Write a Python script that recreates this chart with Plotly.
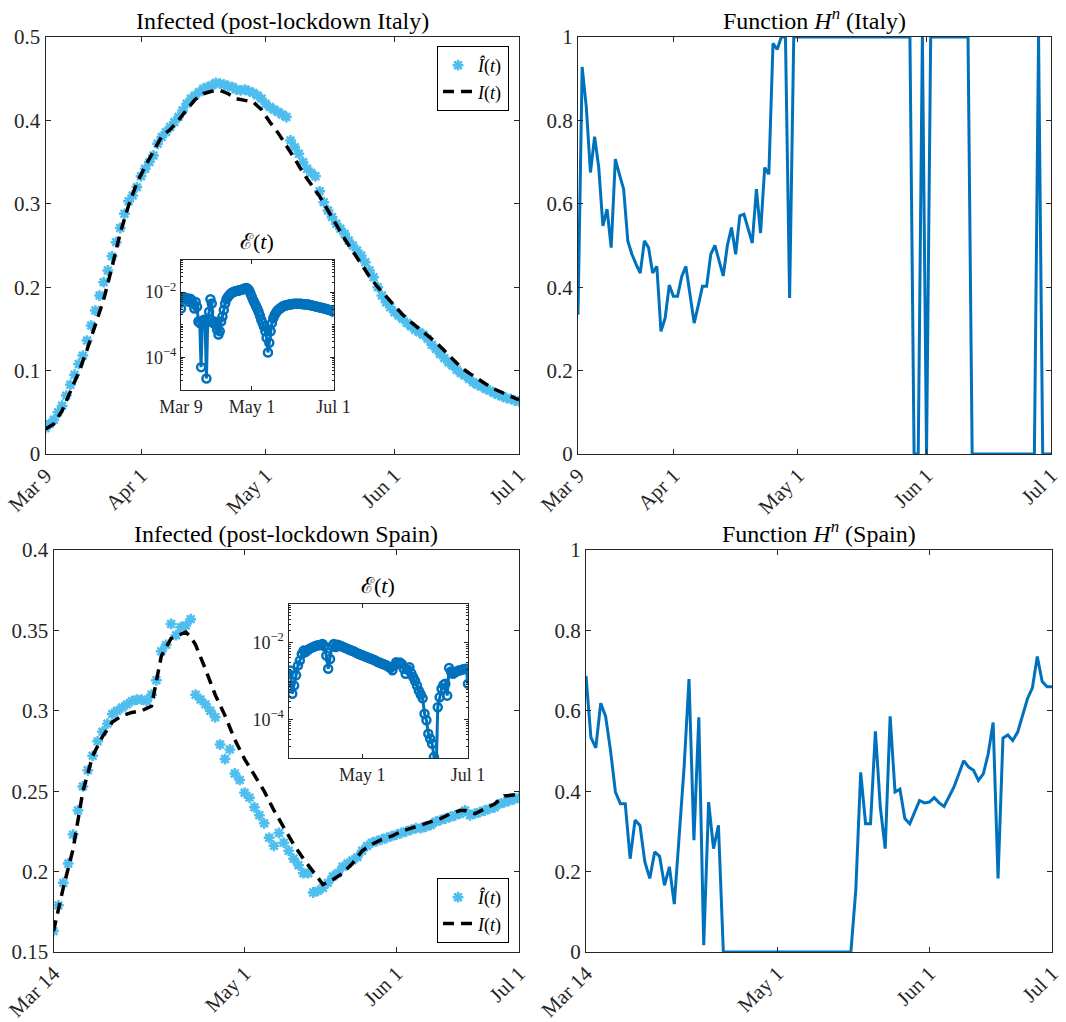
import plotly.graph_objects as go

# ---------------- data ----------------
# Italy (day index from Mar 9)
italy_tick_pos = [0, 23, 53, 84, 114]
italy_tick_txt = ["Mar 9", "Apr 1", "May 1", "Jun 1", "Jul 1"]
italy_inset_tick_pos = [0, 53, 114]
italy_inset_tick_txt = ["Mar 9", "May 1", "Jul 1"]

italy_I_hat = [0.031, 0.036, 0.041, 0.050, 0.058, 0.070, 0.083, 0.095, 0.108, 0.118,
               0.136, 0.154, 0.172, 0.190, 0.206, 0.220, 0.237, 0.254, 0.271, 0.288,
               0.303, 0.310, 0.320, 0.333, 0.342, 0.350, 0.358, 0.372, 0.380, 0.386,
               0.392, 0.398, 0.404, 0.412, 0.420, 0.426, 0.430, 0.434, 0.438, 0.440,
               0.442, 0.445, 0.444, 0.443, 0.441, 0.440, 0.437, 0.436, 0.437, 0.435,
               0.433, 0.430, 0.426, 0.420, 0.416, 0.413, 0.410, 0.407, 0.404, 0.376,
               0.368, 0.360, 0.350, 0.342, 0.337, 0.333, 0.315, 0.302, 0.292, 0.284,
               0.276, 0.270, 0.264, 0.256, 0.250, 0.244, 0.238, 0.230, 0.220, 0.212,
               0.200, 0.190, 0.182, 0.176, 0.170, 0.166, 0.162, 0.157, 0.153, 0.149,
               0.146, 0.143, 0.138, 0.131, 0.126, 0.120, 0.115, 0.110, 0.106, 0.101,
               0.097, 0.094, 0.090, 0.086, 0.083, 0.081, 0.078, 0.076, 0.073, 0.071,
               0.069, 0.067, 0.066, 0.064, 0.063]

italy_model_days = [0, 2, 4, 6, 8, 10, 12, 14, 16, 18, 20, 22, 24, 26, 28, 30, 32, 34, 36, 38,
                    40, 42, 44, 46, 48, 50, 52, 54, 56, 58, 60, 62, 64, 66, 68, 70, 72, 74, 76,
                    78, 80, 82, 84, 86, 88, 90, 92, 94, 96, 98, 100, 102, 104, 106, 108, 110,
                    112, 114]
italy_I_model = [0.030, 0.036, 0.052, 0.075, 0.098, 0.125, 0.155, 0.185, 0.224, 0.265,
                 0.298, 0.325, 0.345, 0.363, 0.381, 0.389, 0.400, 0.413, 0.425, 0.432,
                 0.435, 0.436, 0.432, 0.426, 0.424, 0.422, 0.413, 0.398, 0.385, 0.370,
                 0.354, 0.337, 0.323, 0.309, 0.292, 0.274, 0.258, 0.243, 0.228, 0.213,
                 0.200, 0.189, 0.177, 0.167, 0.158, 0.150, 0.142, 0.134, 0.124, 0.114,
                 0.104, 0.097, 0.090, 0.084, 0.078, 0.073, 0.069, 0.065]

# log10 of the error E(t), Italy
italy_err_log10 = [-2.50, -2.20, -2.15, -2.20, -2.18, -2.22, -2.30, -2.20, -2.25, -2.35,
                   -2.50, -2.30, -2.45, -2.90, -2.95, -4.30, -2.90, -2.85, -2.95, -4.65,
                   -2.90, -2.60, -2.22, -2.35, -2.95, -2.90, -3.00, -3.15, -3.30, -3.20,
                   -2.90, -2.75, -2.55, -2.35,
                   -2.22, -2.15, -2.10, -2.05, -2.02, -2.00, -1.98, -1.97, -1.96, -1.95,
                   -1.94, -1.93, -1.92, -1.90, -1.88, -1.87,
                   -1.90, -1.95, -2.05, -2.15, -2.25, -2.33, -2.42, -2.50, -2.60, -2.72,
                   -2.85, -2.95, -3.05, -3.20, -3.40, -3.85, -3.55, -3.20, -2.95, -2.80,
                   -2.70, -2.63, -2.57, -2.53, -2.50, -2.47, -2.44, -2.42, -2.41, -2.40,
                   -2.39, -2.38, -2.37, -2.37, -2.36, -2.36, -2.36, -2.36, -2.36, -2.36,
                   -2.36, -2.37, -2.37, -2.37, -2.38, -2.38, -2.39, -2.40, -2.41, -2.42,
                   -2.43, -2.44, -2.45, -2.46, -2.47, -2.48, -2.49, -2.50, -2.51, -2.52,
                   -2.54, -2.55, -2.56, -2.58, -2.60]

italy_H = [0.334, 0.928, 0.832, 0.675, 0.761, 0.687, 0.547, 0.587, 0.495, 0.707,
           0.670, 0.635, 0.511, 0.479, 0.455, 0.434, 0.511, 0.495, 0.434, 0.450,
           0.294, 0.326, 0.405, 0.378, 0.378, 0.426, 0.450, 0.380, 0.314, 0.357,
           0.402, 0.402, 0.479, 0.500, 0.463, 0.427, 0.500, 0.543, 0.479, 0.571,
           0.575, 0.543, 0.506, 0.635, 0.530, 0.687, 0.671, 0.985, 0.970, 1.0,
           1.0, 0.374, 1.0, 1.0, 1.0, 1.0, 1.0, 1.0, 1.0, 1.0,
           1.0, 1.0, 1.0, 1.0, 1.0, 1.0, 1.0, 1.0, 1.0, 1.0,
           1.0, 1.0, 1.0, 1.0, 1.0, 1.0, 1.0, 1.0, 1.0, 1.0,
           1.0, 0.0, 0.0, 1.0, 0.0, 1.0, 1.0, 1.0, 1.0, 1.0,
           1.0, 1.0, 1.0, 1.0, 1.0, 0.0, 0.0, 0.0, 0.0, 0.0,
           0.0, 0.0, 0.0, 0.0, 0.0, 0.0, 0.0, 0.0, 0.0, 0.0,
           0.0, 1.0, 0.0, 0.0, 0.0]

# Spain (sample index from Mar 14)
spain_tick_pos = [0, 39, 70, 95]
spain_tick_txt = ["Mar 14", "May 1", "Jun 1", "Jul 1"]
spain_inset_tick_pos = [39, 95]
spain_inset_tick_txt = ["May 1", "Jul 1"]

spain_I_hat = [0.163, 0.179, 0.193, 0.205, 0.223, 0.238, 0.253, 0.263, 0.272, 0.281,
               0.287, 0.292, 0.298, 0.300, 0.302, 0.304, 0.306, 0.307, 0.307, 0.306,
               0.310, 0.319, 0.337, 0.341, 0.354, 0.347, 0.352, 0.353, 0.357, 0.310,
               0.307, 0.304, 0.300, 0.296, 0.279, 0.270, 0.276, 0.261, 0.257, 0.249,
               0.246, 0.240, 0.235, 0.230, 0.221, 0.216, 0.224, 0.218, 0.213, 0.208,
               0.204, 0.199, 0.199, 0.187, 0.188, 0.190, 0.193, 0.197, 0.199, 0.203,
               0.205, 0.207, 0.209, 0.213, 0.216, 0.218, 0.219, 0.220, 0.221, 0.222,
               0.223, 0.224, 0.225, 0.226, 0.227, 0.227, 0.228, 0.229, 0.231, 0.232,
               0.233, 0.234, 0.235, 0.236, 0.238, 0.235, 0.236, 0.237, 0.238, 0.239,
               0.240, 0.242, 0.243, 0.244, 0.245, 0.246]

spain_model_idx = [0, 2, 4, 6, 8, 10, 12, 14, 16, 18, 20, 21, 22, 24, 26, 27, 28, 29, 31, 33,
                   35, 37, 39, 41, 43, 45, 47, 49, 51, 53, 55, 57, 59, 61, 63, 65, 67, 69, 71,
                   73, 75, 77, 79, 81, 83, 84, 86, 88, 90, 92, 94, 95]
spain_I_model = [0.163, 0.190, 0.214, 0.250, 0.272, 0.284, 0.293, 0.297, 0.299, 0.300,
                 0.303, 0.319, 0.334, 0.345, 0.348, 0.349, 0.346, 0.341, 0.326, 0.310,
                 0.297, 0.282, 0.270, 0.260, 0.250, 0.238, 0.227, 0.217, 0.208, 0.200,
                 0.192, 0.195, 0.199, 0.205, 0.213, 0.217, 0.220, 0.222, 0.225, 0.227,
                 0.229, 0.231, 0.233, 0.236, 0.238, 0.238, 0.236, 0.239, 0.242, 0.247,
                 0.248, 0.248]

spain_err_log10 = [-2.81, -2.73, -3.33, -3.12, -2.85, -2.60, -2.47, -2.30, -2.21, -2.25,
                   -2.20, -2.17, -2.14, -2.12, -2.10, -2.08, -2.07, -2.06, -2.04, -2.10,
                   -2.34, -2.68, -2.43, -2.10, -2.04, -2.12, -2.06, -2.08, -2.10, -2.12,
                   -2.14, -2.16, -2.18, -2.20, -2.22, -2.24, -2.27, -2.29, -2.31, -2.33,
                   -2.35, -2.37, -2.39, -2.41, -2.43, -2.45, -2.47, -2.50, -2.52, -2.54,
                   -2.56, -2.58, -2.60, -2.63, -2.66, -2.72, -2.60, -2.51, -2.55, -2.52,
                   -2.56, -2.68, -2.81, -2.70, -2.64, -2.80, -2.90, -3.00, -3.12, -3.25,
                   -3.35, -3.45, -3.85, -4.02, -4.37, -4.50, -4.63, -4.97, -5.60, -3.68,
                   -3.42, -3.20, -3.10, -3.07, -3.38, -2.66, -2.75, -2.81, -2.78, -2.75,
                   -2.73, -2.72, -2.70, -2.69, -2.68, -3.07]

spain_H = [0.687, 0.534, 0.508, 0.619, 0.586, 0.501, 0.398, 0.369, 0.369, 0.232,
           0.328, 0.315, 0.224, 0.183, 0.249, 0.238, 0.166, 0.212, 0.119, 0.290,
           0.460, 0.679, 0.278, 0.584, 0.017, 0.373, 0.257, 0.315, 0.0, 0.0,
           0.0, 0.0, 0.0, 0.0, 0.0, 0.0, 0.0, 0.0, 0.0, 0.0,
           0.0, 0.0, 0.0, 0.0, 0.0, 0.0, 0.0, 0.0, 0.0, 0.0,
           0.0, 0.0, 0.0, 0.0, 0.0, 0.154, 0.447, 0.319, 0.319, 0.549,
           0.360, 0.257, 0.586, 0.398, 0.405, 0.332, 0.319, 0.348, 0.377, 0.371,
           0.373, 0.384, 0.371, 0.362, 0.385, 0.410, 0.443, 0.476, 0.460, 0.452,
           0.427, 0.443, 0.493, 0.571, 0.183, 0.532, 0.540, 0.526, 0.547, 0.592,
           0.630, 0.657, 0.735, 0.673, 0.660, 0.660]

# ---------------- style ----------------
FONT = "Liberation Serif"
AX = "#262626"
C_BLUE = "#0072BD"
C_LIGHT = "#4DBEEE"

italy_days = list(range(len(italy_I_hat)))
spain_idx = list(range(len(spain_I_hat)))

fig = go.Figure()

fig.add_trace(go.Scatter(x=italy_days, y=italy_I_hat, mode="markers", name="<i>Î</i>(<i>t</i>)",
                         marker=dict(symbol="asterisk-open", size=9, color=C_LIGHT,
                                     line=dict(color=C_LIGHT, width=2.5)),
                         xaxis="x", yaxis="y", legend="legend"))
fig.add_trace(go.Scatter(x=italy_model_days, y=italy_I_model, mode="lines", name="<i>I</i>(<i>t</i>)",
                         line=dict(color="black", width=3.5, dash="11px,7px"),
                         xaxis="x", yaxis="y", legend="legend"))
fig.add_trace(go.Scatter(x=italy_days, y=italy_H, mode="lines", showlegend=False,
                         line=dict(color=C_BLUE, width=3), xaxis="x2", yaxis="y2"))
fig.add_trace(go.Scatter(x=spain_idx, y=spain_I_hat, mode="markers", name="<i>Î</i>(<i>t</i>)",
                         marker=dict(symbol="asterisk-open", size=9, color=C_LIGHT,
                                     line=dict(color=C_LIGHT, width=2.5)),
                         xaxis="x3", yaxis="y3", legend="legend2"))
fig.add_trace(go.Scatter(x=spain_model_idx, y=spain_I_model, mode="lines", name="<i>I</i>(<i>t</i>)",
                         line=dict(color="black", width=3.5, dash="11px,7px"),
                         xaxis="x3", yaxis="y3", legend="legend2"))
fig.add_trace(go.Scatter(x=list(range(len(spain_H))), y=spain_H, mode="lines", showlegend=False,
                         line=dict(color=C_BLUE, width=3), xaxis="x4", yaxis="y4"))
fig.add_trace(go.Scatter(x=list(range(len(italy_err_log10))), y=[10 ** v for v in italy_err_log10],
                         mode="lines+markers", showlegend=False,
                         line=dict(color=C_BLUE, width=3),
                         marker=dict(symbol="circle-open", size=8, color=C_BLUE,
                                     line=dict(color=C_BLUE, width=2.5)),
                         xaxis="x5", yaxis="y5"))
fig.add_trace(go.Scatter(x=list(range(len(spain_err_log10))), y=[10 ** v for v in spain_err_log10],
                         mode="lines+markers", showlegend=False,
                         line=dict(color=C_BLUE, width=3),
                         marker=dict(symbol="circle-open", size=8, color=C_BLUE,
                                     line=dict(color=C_BLUE, width=2.5)),
                         xaxis="x6", yaxis="y6"))

W, H = 1066, 1022
def fx(p):
    return p / W
def fy(p):
    return 1 - p / H

common = dict(showline=True, linecolor=AX, linewidth=1, mirror="ticks", ticks="inside",
              ticklen=5, tickcolor=AX, showgrid=False, zeroline=False, automargin=False,
              tickfont=dict(family=FONT, size=21, color=AX))

def xmain(dom, anchor, pos, txt, rng):
    d = dict(common)
    d.update(domain=dom, anchor=anchor, range=rng, tickmode="array", tickvals=pos,
             ticktext=txt, tickangle=-45)
    return d

def ymain(dom, anchor, rng, dtick, t0):
    d = dict(common)
    d.update(domain=dom, anchor=anchor, range=rng, tickmode="linear", tick0=t0, dtick=dtick)
    return d

# panel boxes in pixels (left, right, top, bottom)
P_IT = (45.5, 519, 37, 454)
P_ITH = (578, 1051, 37, 454)
P_ES = (53.5, 519, 550, 952)
P_ESH = (586, 1052, 550, 952)
P_IT_IN = (181, 333.5, 259.5, 390)
P_ES_IN = (288.5, 468, 604, 758)

def dx(p):
    return [fx(p[0]), fx(p[1])]
def dy(p):
    return [fy(p[3]), fy(p[2])]

fig.update_layout(
    width=W, height=H, margin=dict(l=0, r=0, t=0, b=0, autoexpand=False),
    paper_bgcolor="white", plot_bgcolor="white",
    font=dict(family=FONT, color=AX),
    xaxis=xmain(dx(P_IT), "y", italy_tick_pos, italy_tick_txt, [0, 114]),
    yaxis=ymain(dy(P_IT), "x", [0, 0.5], 0.1, 0),
    xaxis2=xmain(dx(P_ITH), "y2", italy_tick_pos, italy_tick_txt, [0, 114]),
    yaxis2=ymain(dy(P_ITH), "x2", [0, 1], 0.2, 0),
    xaxis3=xmain(dx(P_ES), "y3", spain_tick_pos, spain_tick_txt, [0, 95]),
    yaxis3=ymain(dy(P_ES), "x3", [0.15, 0.4], 0.05, 0.15),
    xaxis4=xmain(dx(P_ESH), "y4", spain_tick_pos, spain_tick_txt, [0, 95]),
    yaxis4=ymain(dy(P_ESH), "x4", [0, 1], 0.2, 0),
)

inset_tickfont = dict(family=FONT, size=18, color=AX)
def xinset(dom, anchor, pos, txt, rng):
    d = dict(common)
    d.update(domain=dom, anchor=anchor, range=rng, tickmode="array", tickvals=pos,
             ticktext=txt, tickangle=0, tickfont=inset_tickfont, ticklen=4)
    return d

def yinset(dom, anchor):
    d = dict(common)
    d.update(domain=dom, anchor=anchor, type="log", range=[-5, -1], tickmode="array",
             tickvals=[1e-4, 1e-2], ticktext=["10<sup>−4</sup>", "10<sup>−2</sup>"],
             tickfont=inset_tickfont, ticklen=4,
             minor=dict(ticks="inside", ticklen=2, tickcolor=AX, dtick="D1", showgrid=False))
    return d

fig.update_layout(
    xaxis5=xinset(dx(P_IT_IN), "y5", italy_inset_tick_pos, italy_inset_tick_txt, [0, 114]),
    yaxis5=yinset(dy(P_IT_IN), "x5"),
    xaxis6=xinset(dx(P_ES_IN), "y6", spain_inset_tick_pos, spain_inset_tick_txt, [0, 95]),
    yaxis6=yinset(dy(P_ES_IN), "x6"),
)

legend_style = dict(bordercolor="black", borderwidth=1, bgcolor="white",
                    font=dict(family=FONT, size=18, color="black"), tracegroupgap=0,
                    itemwidth=30)
fig.update_layout(
    legend=dict(x=fx(509), xanchor="right", y=fy(46), yanchor="top", **legend_style),
    legend2=dict(x=fx(509), xanchor="right", y=fy(943), yanchor="bottom", **legend_style),
)

titles = [
    ("Infected (post-lockdown Italy)", P_IT, 24, 1),
    ("Function <i>H</i><sup><i>n</i></sup> (Italy)", P_ITH, 24, 1),
    ("Infected (post-lockdown Spain)", P_ES, 24, 1),
    ("Function <i>H</i><sup><i>n</i></sup> (Spain)", P_ESH, 24, 1),
    ("ℰ(<i>t</i>)", P_IT_IN, 22, 4),
    ("ℰ(<i>t</i>)", P_ES_IN, 22, 4),
]
for txt, p, size, ys in titles:
    fig.add_annotation(text=txt, x=fx((p[0] + p[1]) / 2), y=fy(p[2]), xref="paper", yref="paper",
                       xanchor="center", yanchor="bottom", yshift=ys, showarrow=False,
                       font=dict(family=FONT, size=size, color="black"))

fig.write_html("out.html", config={"displayModeBar": False},
               post_script="document.body.style.margin='0';document.body.style.padding='0';")
